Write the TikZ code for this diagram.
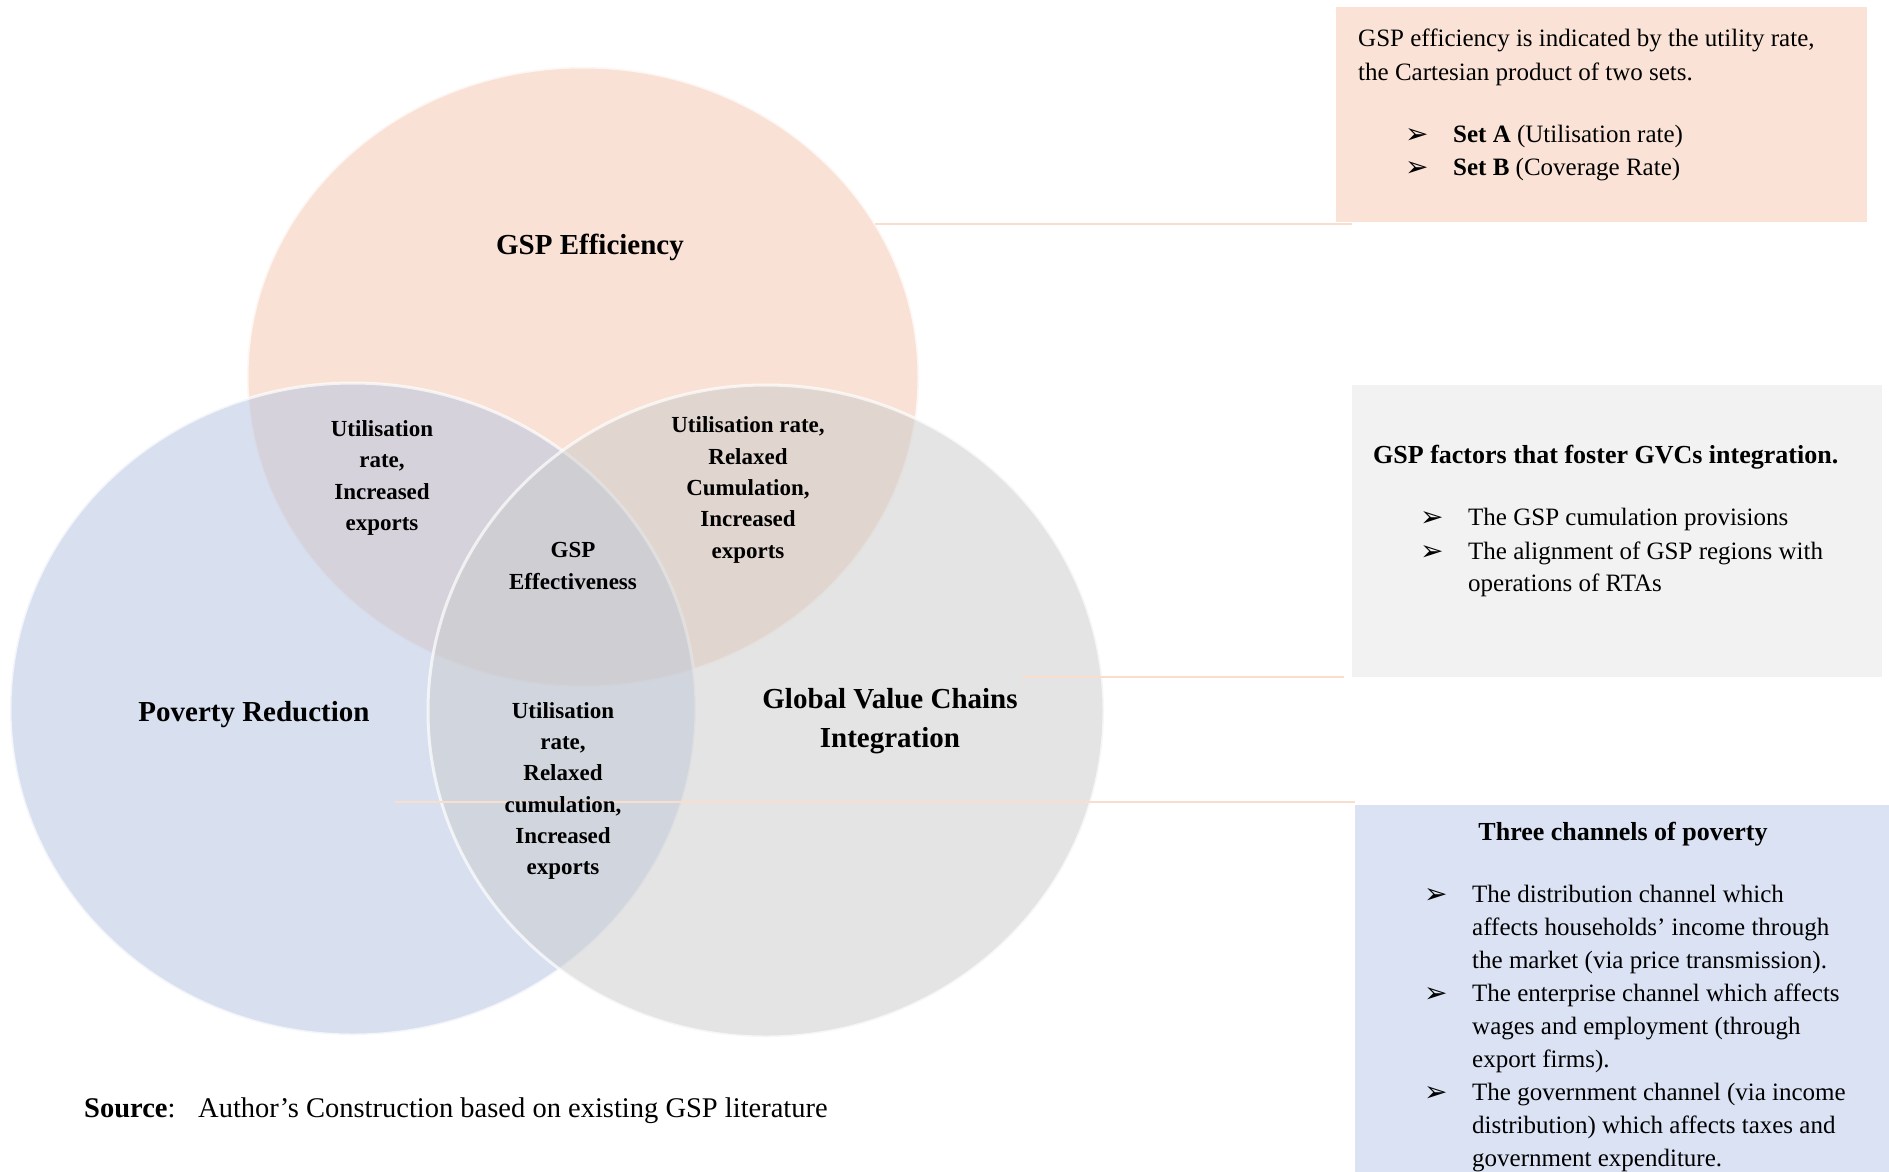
\documentclass[tikz,border=0pt]{standalone}
\usepackage{fontspec}
\setmainfont{Liberation Serif}
\newfontfamily\dejavu{DejaVu Sans}
\usetikzlibrary{shapes.geometric}
\definecolor{cT}{RGB}{245,199,173}
\definecolor{cL}{RGB}{179,195,227}
\definecolor{cR}{RGB}{203,203,203}
\definecolor{boxT}{RGB}{250,227,214}
\definecolor{boxG}{RGB}{242,242,242}
\definecolor{boxB}{RGB}{218,226,243}
\definecolor{conn}{RGB}{250,222,205}
\tikzset{
  venn/.style={ellipse, inner sep=0pt, fill opacity=0.5, draw=white, draw opacity=0.7, line width=3pt},
  big/.style={font=\fontsize{29}{38.5}\selectfont\bfseries, align=center, inner sep=0pt},
  small/.style={font=\fontsize{23}{31.3}\selectfont\bfseries, align=center, inner sep=0pt},
  panel/.style={inner sep=0pt, outer sep=0pt, anchor=north west},
  btxt/.style={font=\fontsize{25}{33}\selectfont, anchor=base west, inner sep=0pt},
  bhead/.style={font=\fontsize{26}{33}\selectfont\bfseries, inner sep=0pt},
  bul/.style={font=\dejavu\fontsize{28}{33}\selectfont, anchor=base west, inner sep=0pt, yshift=-1pt},
  link/.style={draw=conn, line width=2pt},
}
\begin{document}
\begin{tikzpicture}[x=1pt,y=-1pt]
\useasboundingbox[fill=white] (0,0) rectangle (1889,1171);
% Venn circles
\node[venn, fill=cT, minimum width=672pt, minimum height=620pt] (top) at (583,377) {};
\node[venn, fill=cL, minimum width=686pt, minimum height=652pt] (left) at (353,709) {};
\node[venn, fill=cR, minimum width=676pt, minimum height=652pt] (right) at (766,711) {};
% panels
\node[panel, fill=boxT, minimum width=531pt, minimum height=215pt] (box1) at (1336,7) {};
\node[panel, fill=boxG, minimum width=530pt, minimum height=292pt] (box2) at (1352,385) {};
\node[panel, fill=boxB, minimum width=534pt, minimum height=370pt] (box3) at (1355,805) {};
% connectors
\coordinate (l1a) at (875,224); \coordinate (l1b) at (1352,224);
\coordinate (l2a) at (1022,677); \coordinate (l2b) at (1344,677);
\coordinate (l3a) at (395,802); \coordinate (l3b) at (1355,802);
\draw[link] (l1a) -- (l1b);
\draw[link] (l2a) -- (l2b);
\draw[link] (l3a) -- (l3b);
% Venn labels
\node[big] (tEff) at (590,247) {GSP Efficiency};
\node[big] (tPov) at (254,715) {Poverty Reduction};
\node[big] (tGvc) at (890,721) {Global Value Chains\\Integration};
\node[small] (sTL) at (382,478) {Utilisation\\rate,\\Increased\\exports};
\node[small] (sTR) at (748,490) {Utilisation rate,\\Relaxed\\Cumulation,\\Increased\\exports};
\node[small] (sMid) at (573,566) {GSP\\Effectiveness};
\node[small] (sLR) at (563,791) {Utilisation\\rate,\\Relaxed\\cumulation,\\Increased\\exports};
% box 1 text
\node[btxt] (b1a) at (1358,46) {GSP efficiency is indicated by the utility rate,};
\node[btxt] (b1b) at (1358,80) {the Cartesian product of two sets.};
\node[bul] (b1c) at (1405,142) {➢};
\node[btxt] (b1d) at (1453,142) {\textbf{Set A} (Utilisation rate)};
\node[bul] (b1e) at (1405,175) {➢};
\node[btxt] (b1f) at (1453,175) {\textbf{Set B} (Coverage Rate)};
% box 2 text
\node[bhead, anchor=base west] (b2a) at (1373,463) {GSP factors that foster GVCs integration.};
\node[bul] (b2b) at (1420,525) {➢};
\node[btxt] (b2c) at (1468,525) {The GSP cumulation provisions};
\node[bul] (b2d) at (1420,559) {➢};
\node[btxt] (b2e) at (1468,559) {The alignment of GSP regions with};
\node[btxt] (b2f) at (1468,591) {operations of RTAs};
% box 3 text
\node[bhead, anchor=base] (b3a) at (1623,840) {Three channels of poverty};
\node[bul] (b3b) at (1424,902) {➢};
\node[btxt] (b3c) at (1472,902) {The distribution channel which};
\node[btxt] (b3d) at (1472,935) {affects households’ income through};
\node[btxt] (b3e) at (1472,968) {the market (via price transmission).};
\node[bul] (b3f) at (1424,1001) {➢};
\node[btxt] (b3g) at (1472,1001) {The enterprise channel which affects};
\node[btxt] (b3h) at (1472,1034) {wages and employment (through};
\node[btxt] (b3i) at (1472,1067) {export firms).};
\node[bul] (b3j) at (1424,1100) {➢};
\node[btxt] (b3k) at (1472,1100) {The government channel (via income};
\node[btxt] (b3l) at (1472,1133) {distribution) which affects taxes and};
\node[btxt] (b3m) at (1472,1166) {government expenditure.};
% source
\node[btxt, font=\fontsize{28.5}{33}\selectfont] (src1) at (84,1117) {\textbf{Source}:};
\node[btxt, font=\fontsize{28.5}{33}\selectfont] (src2) at (198,1117) {Author’s Construction based on existing GSP literature};
\end{tikzpicture}
\end{document}
